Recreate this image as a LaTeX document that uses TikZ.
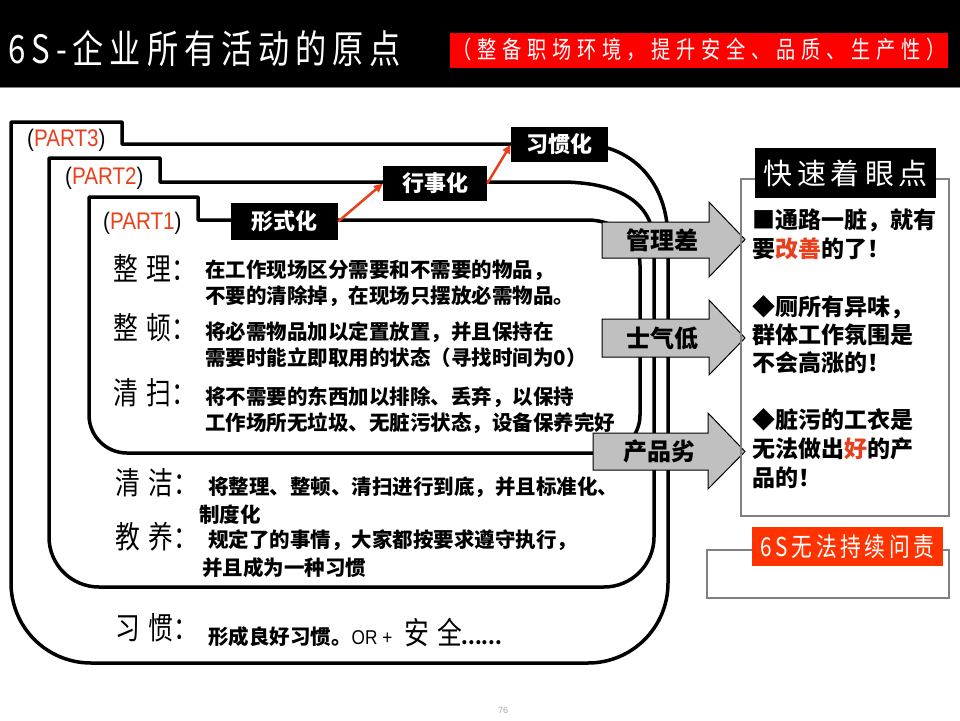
\documentclass[tikz,border=0pt]{standalone}
\usepackage{fontspec}
\setmainfont{Liberation Sans}
\newfontfamily\cjk{Noto Sans CJK SC}
\newfontfamily\cjkn{Noto Sans CJK SC}[FakeStretch=0.8]
\newfontfamily\narrowf{Liberation Sans}[FakeStretch=0.86]
\usetikzlibrary{arrows.meta}
\definecolor{myred}{HTML}{E8401C}
\definecolor{boxred}{HTML}{FF3300}
\definecolor{arrgray}{HTML}{C0C0C0}
\begin{document}
\begin{tikzpicture}[x=1pt,y=-1pt,
  part/.style={line width=3.5pt, line join=round},
  blk/.style={fill=black, text=white, inner sep=0pt, font=\cjk\bfseries\fontsize{22}{22}\selectfont},
  redarr/.style={draw=myred, line width=2.5pt, -{Triangle[length=9pt,width=8pt]}},
  bodytxt/.style={anchor=west, inner sep=0pt, font=\cjk\bfseries\fontsize{20.5}{20.5}\selectfont},
  lbl/.style={anchor=west, inner sep=0pt, font=\cjkn\fontsize{31}{31}\selectfont},
  ptxt/.style={anchor=west, inner sep=0pt, font=\cjk\bfseries\fontsize{23}{23}\selectfont},
  parttxt/.style={anchor=west, inner sep=0pt, font=\narrowf\fontsize{24}{24}\selectfont, text=myred},
  blockarr/.style={fill=arrgray, draw=black, line width=1pt, line join=miter},
  arrtxt/.style={inner sep=0pt, font=\cjk\bfseries\fontsize{24}{24}\selectfont},
  frame/.style={draw=gray, line width=1.3pt}
]
\useasboundingbox (0,0) rectangle (960,720);
\fill[white] (0,0) rectangle (960,720);

% header
\fill[black] (0,0) rectangle (960,87);
\draw[gray, line width=1pt] (0,87.5) -- (960,87.5);
\node[anchor=west, inner sep=0pt, text=white, font=\cjkn\addfontfeature{LetterSpace=15}\fontsize{39}{39}\selectfont] (title) at (8,49) {6S-企业所有活动的原点};
\node[fill=red, minimum width=498pt, minimum height=35pt, inner sep=0pt, text=white,
      font=\cjkn\addfontfeature{LetterSpace=24}\fontsize{24}{24}\selectfont] (sub) at (699,50) {（整备职场环境，提升安全、品质、生产性）};

% PART3 outline
\draw[part] (11,300) -- (11,122) -- (122,122) -- (122,144) -- (580,144)
  .. controls (630,144) and (668,180) .. (668,240)
  [rounded corners=80pt] -- (668,663) -- (11,663) -- (11,300);
% PART2 outline
\draw[part] (49,300) -- (49,158) -- (160,158) -- (160,182) -- (560,182)
  .. controls (615,182) and (654,200) .. (654,245)
  [rounded corners=50pt] -- (654,587) -- (49,587) -- (49,300);
% PART1 outline
\draw[part] (89,300) -- (89,197) -- (198,197) -- (198,220) -- (588,220)
  .. controls (612,220) and (640,236) .. (640,265)
  [rounded corners=38pt] -- (640,453) -- (89,453) -- (89,300);

% part labels
\node[parttxt] (p3) at (27,140) {\textcolor{black}{(}PART3\textcolor{black}{)}};
\node[parttxt] (p2) at (65,178) {\textcolor{black}{(}PART2\textcolor{black}{)}};
\node[parttxt] (p1) at (103,223) {\textcolor{black}{(}PART1\textcolor{black}{)}};

% black boxes
\node[blk, minimum width=107pt, minimum height=37pt] (form) at (284.5,221.5) {形式化};
\node[blk, minimum width=104pt, minimum height=35pt] (xs) at (435,183.5) {行事化};
\node[blk, minimum width=97pt, minimum height=35pt] (xg) at (559.5,144.5) {习惯化};
\draw[redarr] (form.east) -- (xs.west);
\draw[redarr] (xs.east) -- (xg.west);

% left texts
\node[lbl] (l1) at (113,268) {整\hspace{9pt}理：};
\node[bodytxt] (t1) at (205,270) {在工作现场区分需要和不需要的物品，};
\node[bodytxt] (t2) at (205,296) {不要的清除掉，在现场只摆放必需物品。};
\node[lbl] (l2) at (113,328) {整\hspace{9pt}顿：};
\node[bodytxt] (t3) at (205,332) {将必需物品加以定置放置，并且保持在};
\node[bodytxt] (t4) at (205,358) {需要时能立即取用的状态（寻找时间为0）};
\node[lbl] (l3) at (113,393) {清\hspace{9pt}扫：};
\node[bodytxt] (t5) at (205,397) {将不需要的东西加以排除、丢弃，以保持};
\node[bodytxt] (t6) at (205,423) {工作场所无垃圾、无脏污状态，设备保养完好};
\node[lbl] (l4) at (115,483) {清\hspace{9pt}洁：};
\node[bodytxt] (t7) at (208,487) {将整理、整顿、清扫进行到底，并且标准化、};
\node[bodytxt] (t8) at (199,515) {制度化};
\node[lbl] (l5) at (115,537) {教\hspace{9pt}养：};
\node[bodytxt] (t9) at (208,540) {规定了的事情，大家都按要求遵守执行，};
\node[bodytxt] (t10) at (202,568) {并且成为一种习惯};
\node[lbl] (l6) at (115,628) {习\hspace{9pt}惯：};
\node[bodytxt] (t11) at (208,632) {形成良好习惯。{\mdseries\narrowf\fontsize{20}{20}\selectfont OR +\hspace{12pt}}{\mdseries\cjkn\fontsize{31}{31}\selectfont 安\hspace{8pt}全}{\bfseries\fontsize{19}{19}\selectfont ......}};

% block arrows
\draw[blockarr] (602,222) -- (709,222) -- (709,202) -- (745,239.5) -- (709,277) -- (709,258) -- (602,258) -- cycle;
\node[arrtxt] (a1) at (662,240) {管理差};
\draw[blockarr] (602,319) -- (709,319) -- (709,300) -- (745,338) -- (709,375) -- (709,357) -- (602,357) -- cycle;
\node[arrtxt] (a2) at (662,338) {士气低};
\draw[blockarr] (593,433) -- (708,433) -- (708,413) -- (745,451.5) -- (708,489) -- (708,470) -- (593,470) -- cycle;
\node[arrtxt] (a3) at (659,451) {产品劣};

% right panel
\draw[frame] (741,179) rectangle (949,516);
\node[fill=black, text=white, minimum width=181pt, minimum height=50pt, inner sep=0pt,
      font=\cjk\fontsize{29}{29}\selectfont] (kp) at (845.5,173) {快\hspace{5pt}速\hspace{5pt}着\hspace{5pt}眼\hspace{5pt}点};
\node[ptxt] (r1) at (752,220) {■通路一脏，就有};
\node[ptxt] (r2) at (752,249) {要\textcolor{myred}{改善}的了！};
\node[ptxt] (r3) at (752,307) {◆厕所有异味，};
\node[ptxt] (r4) at (752,335) {群体工作氛围是};
\node[ptxt] (r5) at (752,363) {不会高涨的！};
\node[ptxt] (r6) at (752,420) {◆脏污的工衣是};
\node[ptxt] (r7) at (752,449) {无法做出\textcolor{myred}{好}的产};
\node[ptxt] (r8) at (752,478) {品的！};

% lower right
\draw[frame] (707,550) rectangle (949,598);
\node[fill=boxred, text=white, minimum width=191pt, minimum height=39pt, inner sep=0pt,
      font=\cjkn\addfontfeature{LetterSpace=14}\fontsize{26}{26}\selectfont] (wz) at (847.5,546.5) {6S无法持续问责};

% page number
\node[text=gray!70, inner sep=0pt, font=\fontsize{9}{9}\selectfont] (pg) at (503,710) {76};
\end{tikzpicture}
\end{document}
